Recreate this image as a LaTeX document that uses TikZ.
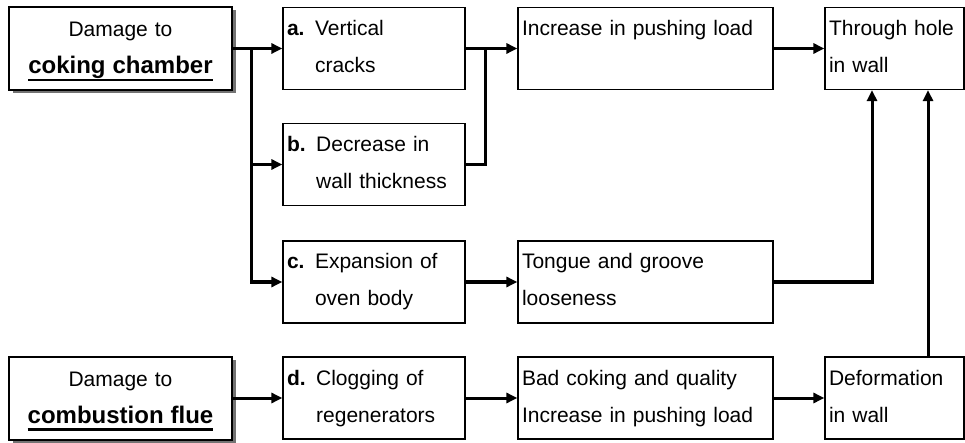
\documentclass[tikz,border=0pt]{standalone}
\usepackage{fontspec}
\setmainfont{Liberation Sans}
\usetikzlibrary{arrows.meta,shadows}

\newsavebox\causebox
\newcommand{\cause}[3]{\sbox\causebox{\textbf{#1.} }\usebox\causebox#2\\\hspace*{\wd\causebox}#3}
\newcommand{\undl}[1]{\leavevmode\sbox\causebox{#1}\rlap{\rule[-7pt]{\wd\causebox}{2.3pt}}\usebox\causebox}

\begin{document}
\begin{tikzpicture}[x=1pt, y=-1pt,
  dmg/.style={draw, line width=2pt, fill=white, minimum height=83pt,
    text width=215pt, inner xsep=4pt, align=center, text height=15pt,
    text depth=38pt, font=\fontsize{21}{37}\selectfont,
    drop shadow={shadow xshift=3.5pt, shadow yshift=-3.5pt,
      fill=black!55, opacity=1}},
  box/.style={draw, line width=1.2pt, minimum height=82pt, inner xsep=4pt,
    align=left, text height=15pt, text depth=41pt,
    font=\fontsize{21}{37}\selectfont},
  arr/.style={-{Triangle[length=11pt, width=10pt]}, line width=3pt},
  link/.style={line width=3pt}
]
  \useasboundingbox (0,0) rectangle (965,443);

  % Damage boxes
  \node[dmg] (cc) at (120.5,48.5)
    {Damage to\\\fontsize{24}{37}\selectfont\bfseries\undl{coking chamber}};
  \node[dmg] (cf) at (120.5,398)
    {Damage to\\\fontsize{24}{37}\selectfont\bfseries\undl{combustion flue}};

  % Cause boxes
  \node[box, text width=174pt] (a) at (374,48.5) {\cause{a}{Vertical}{cracks}};
  \node[box, text width=174pt] (b) at (374,164.5) {\cause{b}{Decrease in}{wall thickness}};
  \node[box, text width=174pt] (c) at (374,282) {\cause{c}{Expansion of}{oven body}};
  \node[box, text width=174pt] (d) at (374,398) {\cause{d}{Clogging of}{regenerators}};

  % Effect boxes
  \node[box, text width=247pt] (load) at (645.5,48.5) {Increase in pushing load};
  \node[box, text width=247pt] (tongue) at (645.5,282) {Tongue and groove\\looseness};
  \node[box, text width=247pt] (coke) at (645.5,398)
    {Bad coking and quality\\Increase in pushing load};

  % Result boxes
  \node[box, text width=131pt] (hole) at (894.5,48.5) {Through hole\\in wall};
  \node[box, text width=131pt] (deform) at (894.5,398) {Deformation\\in wall};

  % Junctions
  \coordinate (j1) at (251,0);
  \coordinate (j2) at (485,0);
  \coordinate (k1) at (872,0);
  \coordinate (k2) at (928,0);

  % Arrows
  \draw[arr] (cc) -- (a);
  \draw[arr] (j1 |- cc.east) |- (b);
  \draw[arr] (j1 |- cc.east) |- (c);
  \draw[arr] (a) -- (load);
  \draw[link] (b) -| (j2 |- a.east);
  \draw[arr] (load) -- (hole);
  \draw[arr] (c) -- (tongue);
  \draw[arr] (tongue) -| (k1 |- hole.south);
  \draw[arr] (k2 |- deform.north) -- (k2 |- hole.south);
  \draw[arr] (cf) -- (d);
  \draw[arr] (d) -- (coke);
  \draw[arr] (coke) -- (deform);
\end{tikzpicture}
\end{document}
